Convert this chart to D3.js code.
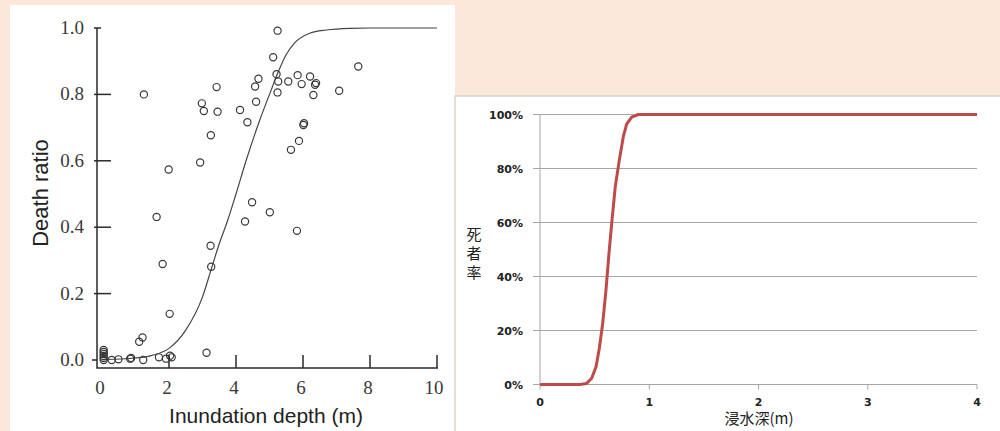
<!DOCTYPE html>
<meta charset="utf-8" />
<script src="https://d3js.org/d3.v7.min.js"></script>
<style>
  body { margin: 0; background: #fbe8da; }
  svg { display: block; }
</style>
<div id="chart"></div>
<script>
  // ---- left panel: observed death ratio vs inundation depth ----
  const depth = [0.05, 0.05, 0.05, 0.05, 0.05, 0.05, 0.29, 0.49, 0.84, 0.87,
    1.23, 1.70, 1.91, 2.03, 2.08, 1.11, 1.21, 3.12, 2.02, 1.81,
    1.63, 3.24, 3.26, 4.48, 4.27, 5.01, 5.82, 2.93, 1.99, 3.25,
    5.64, 5.88, 6.03, 6.01, 4.34, 2.98, 3.04, 3.45, 4.12, 1.25,
    3.42, 4.60, 5.24, 7.08, 6.31, 4.57, 4.67, 5.21, 5.26, 5.56,
    5.84, 5.96, 6.21, 6.36, 6.39, 7.65, 5.11, 5.24];
  const ratio = [0.000, 0.006, 0.012, 0.018, 0.024, 0.030, 0.000, 0.002, 0.004, 0.006,
    0.000, 0.008, 0.004, 0.013, 0.008, 0.055, 0.068, 0.022, 0.139, 0.289,
    0.431, 0.344, 0.281, 0.475, 0.417, 0.445, 0.389, 0.595, 0.574, 0.677,
    0.633, 0.660, 0.713, 0.708, 0.716, 0.773, 0.750, 0.748, 0.753, 0.800,
    0.822, 0.778, 0.806, 0.811, 0.798, 0.824, 0.847, 0.861, 0.839, 0.839,
    0.858, 0.831, 0.854, 0.829, 0.834, 0.884, 0.912, 0.992];

  // fitted curve
  const fitX = [0, 1, 1.5, 2, 2.5, 3, 3.25, 3.5, 3.75, 4, 4.3, 4.7, 5, 5.25, 5.5, 5.75, 6.2, 6.7, 7.4, 8, 10];
  const fitY = [0.001, 0.006, 0.014, 0.035, 0.09, 0.19, 0.27, 0.35, 0.42, 0.5, 0.6, 0.72, 0.8, 0.865, 0.92, 0.955, 0.984, 0.994, 0.999, 1, 1];

  const leftXTicks = [0, 2, 4, 6, 8, 10];
  const leftYTicks = [0, 0.2, 0.4, 0.6, 0.8, 1.0];

  // ---- right panel: model curve ----
  const modelX = [0, 0.366, 0.427, 0.473, 0.513, 0.543, 0.574, 0.604, 0.634, 0.662, 0.689, 0.726, 0.762, 0.793, 0.839, 0.9, 4];
  const modelY = [0, 0, 0.004, 0.023, 0.066, 0.134, 0.227, 0.35, 0.498, 0.621, 0.733, 0.831, 0.917, 0.964, 0.99, 1, 1];

  const rightXTicks = [0, 1, 2, 3, 4];
  const rightYTicks = [0, 0.2, 0.4, 0.6, 0.8, 1.0];

  const svg = d3.select("#chart").append("svg")
    .attr("width", 1000)
    .attr("height", 431);

  // panels
  svg.append("rect").attr("x", 0).attr("y", 0).attr("width", 1000).attr("height", 431).attr("fill", "#fbe8da");
  svg.append("rect").attr("x", 10).attr("y", 5).attr("width", 445).attr("height", 430).attr("fill", "#fff");
  svg.append("rect").attr("x", 455).attr("y", 96).attr("width", 548).attr("height", 340)
    .attr("fill", "#fff").attr("stroke", "#c8c0b8").attr("stroke-width", 1);

  // ================= left chart =================
  const x1 = d3.scaleLinear().domain([0, 10]).range([102, 437]);
  const y1 = d3.scaleLinear().domain([0, 1]).range([360, 28]);
  const L = svg.append("g");
  const ink = "#2a2a2a";

  // axis lines
  L.append("path")
    .attr("d", `M97,${y1(1)}V368H438`)
    .attr("fill", "none").attr("stroke", ink).attr("stroke-width", 1.5);

  // y ticks + labels
  L.selectAll("line.yt").data(leftYTicks).join("line")
    .attr("class", "yt")
    .attr("x1", d => (d === 0 ? 92 : 94))
    .attr("x2", d => (d === 0 ? 97 : d === 1 ? 101 : 111))
    .attr("y1", d => y1(d)).attr("y2", d => y1(d))
    .attr("stroke", ink).attr("stroke-width", 1.5);
  L.selectAll("text.yl").data(leftYTicks).join("text")
    .attr("class", "yl")
    .attr("x", 84).attr("y", d => y1(d) + 6)
    .attr("text-anchor", "end")
    .style("font-family", "Liberation Serif, serif").style("font-size", "19px").style("fill", "#3a3a3a")
    .text(d3.format(".1f"));

  // x ticks + labels
  L.selectAll("line.xt").data(leftXTicks.filter(d => d > 0)).join("line")
    .attr("class", "xt")
    .attr("x1", d => x1(d)).attr("x2", d => x1(d))
    .attr("y1", 368).attr("y2", 355)
    .attr("stroke", ink).attr("stroke-width", 1.5);
  L.selectAll("text.xl").data(leftXTicks).join("text")
    .attr("class", "xl")
    .attr("x", d => x1(d) - (d === 10 ? 3 : 2)).attr("y", 394)
    .attr("text-anchor", "middle")
    .style("font-family", "Liberation Serif, serif").style("font-size", "19px").style("fill", "#3a3a3a")
    .text(d => d);

  // fitted curve
  L.append("path")
    .datum(fitX.map((v, i) => [v, fitY[i]]))
    .attr("fill", "none").attr("stroke", "#444").attr("stroke-width", 1.2)
    .attr("d", d3.line().x(d => x1(d[0])).y(d => y1(d[1])).curve(d3.curveMonotoneX));

  // observations
  L.selectAll("circle").data(depth.map((v, i) => [v, ratio[i]])).join("circle")
    .attr("cx", d => x1(d[0])).attr("cy", d => y1(d[1])).attr("r", 3.6)
    .attr("fill", "none").attr("stroke", "#3a3a3a").attr("stroke-width", 1.2);

  // titles
  L.append("text").attr("x", 266).attr("y", 423).attr("text-anchor", "middle")
    .style("font-family", "Liberation Sans, Arial, sans-serif").style("font-size", "21px").style("fill", "#222")
    .text("Inundation depth (m)");
  L.append("text").attr("transform", "translate(48,193) rotate(-90)").attr("text-anchor", "middle")
    .style("font-family", "Liberation Sans, Arial, sans-serif").style("font-size", "22px").style("fill", "#222")
    .text("Death ratio");

  // ================= right chart =================
  const x2 = d3.scaleLinear().domain([0, 4]).range([540, 977]);
  const y2 = d3.scaleLinear().domain([0, 1]).range([384.5, 114.5]);
  const R = svg.append("g");

  // gridlines
  R.selectAll("line.grid").data(rightYTicks).join("line")
    .attr("class", "grid")
    .attr("x1", 533).attr("x2", x2(4))
    .attr("y1", d => y2(d)).attr("y2", d => y2(d))
    .attr("stroke", "#a6a6a6").attr("stroke-width", 1);
  // y axis
  R.append("line").attr("x1", x2(0)).attr("x2", x2(0)).attr("y1", y2(1)).attr("y2", y2(0))
    .attr("stroke", "#a6a6a6").attr("stroke-width", 1);
  // x ticks
  R.selectAll("line.xt").data(rightXTicks).join("line")
    .attr("class", "xt")
    .attr("x1", d => x2(d)).attr("x2", d => x2(d))
    .attr("y1", y2(0)).attr("y2", y2(0) + 5)
    .attr("stroke", "#a6a6a6").attr("stroke-width", 1);

  R.selectAll("text.yl").data(rightYTicks).join("text")
    .attr("class", "yl")
    .attr("x", 523).attr("y", d => y2(d) + 4)
    .attr("text-anchor", "end")
    .style("font-family", "DejaVu Sans, sans-serif").style("font-size", "11px")
    .style("font-weight", "bold").style("fill", "#222")
    .text(d3.format(".0%"));
  R.selectAll("text.xl").data(rightXTicks).join("text")
    .attr("class", "xl")
    .attr("x", d => x2(d)).attr("y", 406)
    .attr("text-anchor", "middle")
    .style("font-family", "DejaVu Sans, sans-serif").style("font-size", "11px")
    .style("font-weight", "bold").style("fill", "#222")
    .text(d => d);

  // model curve
  R.append("path")
    .datum(modelX.map((v, i) => [v, modelY[i]]))
    .attr("fill", "none").attr("stroke", "#be4b48").attr("stroke-width", 3)
    .attr("stroke-linejoin", "round")
    .attr("d", d3.line().x(d => x2(d[0])).y(d => y2(d[1])));

  // titles
  R.append("text").attr("x", 759).attr("y", 424).attr("text-anchor", "middle")
    .style("font-family", "Noto Sans CJK JP, sans-serif").style("font-size", "15px").style("fill", "#222")
    .text("浸水深(m)");
  R.selectAll("text.yc").data(["死", "者", "率"]).join("text")
    .attr("class", "yc")
    .attr("x", 474).attr("y", (d, i) => 240 + i * 19)
    .attr("text-anchor", "middle")
    .style("font-family", "Noto Sans CJK JP, sans-serif").style("font-size", "15px").style("fill", "#222")
    .text(d => d);
</script>
